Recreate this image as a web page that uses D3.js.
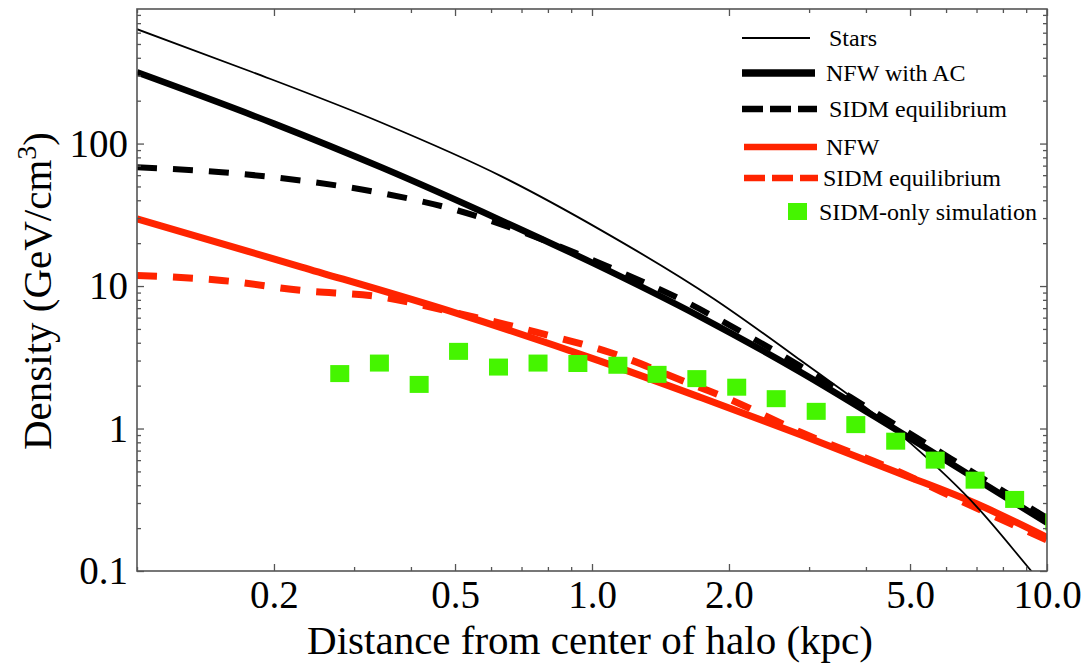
<!DOCTYPE html>
<html>
<head>
<meta charset="utf-8">
<script src="https://cdn.jsdelivr.net/npm/d3@7"></script>
<style>
body{margin:0;background:#fff;}
svg text{font-family:"Liberation Serif","Times New Roman",serif;fill:#000;}
</style>
</head>
<body>
<svg id="chart"></svg>
<script>
// distance in kpc, density in GeV/cm^3
const starsR = [0.1, 0.179, 0.345, 0.631, 1.046, 1.851, 2.873, 5.01, 7.02, 9.08, 10];
const starsRho = [635, 318, 140, 59.1, 24.7, 8.15, 3.01, 0.789, 0.281, 0.1067, 0.0737];

const nfwAcR = [0.1, 0.2, 0.345, 0.631, 1.0, 1.735, 2.873, 4.75, 10];
const nfwAcRho = [316, 138, 67.8, 28.9, 14.6, 6.06, 2.49, 0.945, 0.218];

const sidmAcR = [0.1, 0.1536, 0.23, 0.345, 0.507, 0.746, 1.084, 1.552, 2.198, 2.597, 3.7, 6.13, 10];
const sidmAcRho = [68.1, 62.9, 55.0, 44.9, 33.9, 22.3, 13.7, 8.19, 4.51, 3.32, 1.66, 0.619, 0.235];

const nfwR = [0.1, 0.23, 0.507, 1.046, 1.735, 2.873, 4.75, 7.02, 10];
const nfwRho = [29.6, 13.6, 6.4, 2.96, 1.65, 0.905, 0.484, 0.295, 0.172];

const sidmR = [0.1, 0.1536, 0.23, 0.345, 0.511, 0.754, 1.10, 1.591, 1.939, 2.873, 4.75, 6.77, 10];
const sidmRho = [11.87, 10.95, 9.31, 8.36, 6.4, 4.75, 3.4, 2.15, 1.68, 0.942, 0.494, 0.29, 0.165];

const simR = [0.279, 0.341, 0.417, 0.509, 0.623, 0.761, 0.931, 1.14, 1.39, 1.70, 2.08, 2.54, 3.11, 3.80, 4.65, 5.68, 6.95, 8.49, 10.4];
const simRho = [2.43, 2.88, 2.04, 3.48, 2.70, 2.88, 2.86, 2.78, 2.40, 2.24, 1.95, 1.62, 1.32, 1.065, 0.815, 0.60, 0.434, 0.318, 0.221];

const xTicks = [0.2, 0.5, 1, 2, 5, 10];
const xTickLabels = ['0.2', '0.5', '1.0', '2.0', '5.0', '10.0'];
const yTicks = [0.1, 1, 10, 100];
const yTickLabels = ['0.1', '1', '10', '100'];

const legendNames = ['Stars', 'NFW with AC', 'SIDM equilibrium', 'NFW', 'SIDM equilibrium', 'SIDM-only simulation'];

const w = 1085;
const h = 666;
const padL = 137, padR = 1047, padT = 9, padB = 571;
const serif = '"Liberation Serif", "Times New Roman", serif';
const red = '#ff2400';
const green = '#45f500';

const x = d3.scaleLog().domain([0.1, 10]).range([padL, padR]);
const y = d3.scaleLog().domain([0.1, 880]).range([padB, padT]);

const svg = d3.select('#chart').attr('width', w).attr('height', h);

svg.append('defs').append('clipPath').attr('id', 'plot')
    .append('rect')
    .attr('x', padL).attr('y', padT)
    .attr('width', padR - padL).attr('height', padB - padT);

const plot = svg.append('g').attr('clip-path', 'url(#plot)');

const line = d3.line()
    .x(d => x(d[0]))
    .y(d => y(d[1]))
    .curve(d3.curveMonotoneX);

const series = [
    {r: nfwR, rho: nfwRho, color: red, width: 7, dash: null},
    {r: sidmR, rho: sidmRho, color: red, width: 7, dash: '20,16'},
    {r: nfwAcR, rho: nfwAcRho, color: '#000', width: 6.5, dash: null},
    {r: sidmAcR, rho: sidmAcRho, color: '#000', width: 6, dash: '20,16'},
    {r: starsR, rho: starsRho, color: '#000', width: 1.8, dash: null}
];

series.forEach(s => {
    plot.append('path')
        .datum(d3.zip(s.r, s.rho))
        .attr('d', line)
        .attr('fill', 'none')
        .attr('stroke', s.color)
        .attr('stroke-width', s.width)
        .attr('stroke-dasharray', s.dash);
});

plot.selectAll('rect.sim')
    .data(d3.zip(simR, simRho))
    .enter()
    .append('rect')
    .attr('class', 'sim')
    .attr('x', d => x(d[0]) - 9.5)
    .attr('y', d => y(d[1]) - 8.5)
    .attr('width', 19)
    .attr('height', 17)
    .attr('fill', green);

// frame + ticks (inward on all four sides)
const minorX = x.ticks().filter(v => !xTicks.includes(v));
const minorY = y.ticks().filter(v => !yTicks.includes(v) && v <= 880);

function styleAxis(g) {
    g.attr('font-family', serif);
    g.select('.domain').remove();
    g.selectAll('line').attr('stroke', '#555').attr('stroke-width', 1.3);
    g.selectAll('text').attr('font-size', 39).attr('fill', '#000')
        .attr('font-family', serif);
}

const xFmt = (d, i) => xTickLabels[i];
const yFmt = (d, i) => yTickLabels[i];

svg.append('g').attr('transform', `translate(0,${padB})`)
    .call(d3.axisBottom(x).tickValues(xTicks).tickFormat(xFmt).tickSize(-7).tickPadding(9))
    .call(styleAxis);
svg.append('g').attr('transform', `translate(0,${padB})`)
    .call(d3.axisBottom(x).tickValues(minorX).tickFormat('').tickSize(-4))
    .call(styleAxis);
svg.append('g').attr('transform', `translate(0,${padT})`)
    .call(d3.axisTop(x).tickValues(xTicks).tickFormat('').tickSize(-7))
    .call(styleAxis);
svg.append('g').attr('transform', `translate(0,${padT})`)
    .call(d3.axisTop(x).tickValues(minorX).tickFormat('').tickSize(-4))
    .call(styleAxis);

svg.append('g').attr('transform', `translate(${padL},0)`)
    .call(d3.axisLeft(y).tickValues(yTicks).tickFormat(yFmt).tickSize(-7).tickPadding(9))
    .call(styleAxis);
svg.append('g').attr('transform', `translate(${padL},0)`)
    .call(d3.axisLeft(y).tickValues(minorY).tickFormat('').tickSize(-4))
    .call(styleAxis);
svg.append('g').attr('transform', `translate(${padR},0)`)
    .call(d3.axisRight(y).tickValues(yTicks).tickFormat('').tickSize(-7))
    .call(styleAxis);
svg.append('g').attr('transform', `translate(${padR},0)`)
    .call(d3.axisRight(y).tickValues(minorY).tickFormat('').tickSize(-4))
    .call(styleAxis);

svg.append('rect')
    .attr('x', padL).attr('y', padT)
    .attr('width', padR - padL).attr('height', padB - padT)
    .attr('fill', 'none')
    .attr('stroke', '#555')
    .attr('stroke-width', 1.6);

// axis titles
svg.append('text')
    .attr('x', 590).attr('y', 654)
    .attr('text-anchor', 'middle')
    .attr('font-family', serif)
    .attr('font-size', 41)
    .text('Distance from center of halo (kpc)');

const yTitle = svg.append('text')
    .attr('transform', 'translate(51,291) rotate(-90)')
    .attr('text-anchor', 'middle')
    .attr('font-family', serif)
    .attr('font-size', 41);
yTitle.append('tspan').text('Density (GeV/cm');
yTitle.append('tspan').attr('font-size', 28).attr('dy', -15).text('3');
yTitle.append('tspan').attr('dy', 15).text(')');

// legend
const legendRows = [
    {y: 38, color: '#000', width: 2, dash: null, x1: 742, x2: 810, tx: 829},
    {y: 73, color: '#000', width: 7.5, dash: null, x1: 742, x2: 815, tx: 826},
    {y: 109, color: '#000', width: 6.5, dash: '21,7', x1: 742, x2: 817, tx: 829},
    {y: 147, color: red, width: 6.5, dash: null, x1: 744, x2: 817, tx: 826},
    {y: 178, color: red, width: 6.5, dash: '21,7', x1: 744, x2: 818, tx: 823},
    {y: 212, square: true, tx: 819}
];

const legend = svg.append('g');
legendRows.forEach((row, i) => {
    if (row.square) {
        legend.append('rect')
            .attr('x', 788).attr('y', row.y - 9)
            .attr('width', 19).attr('height', 17)
            .attr('fill', green);
    } else {
        legend.append('line')
            .attr('x1', row.x1).attr('x2', row.x2)
            .attr('y1', row.y).attr('y2', row.y)
            .attr('stroke', row.color)
            .attr('stroke-width', row.width)
            .attr('stroke-dasharray', row.dash);
    }
    legend.append('text')
        .attr('x', row.tx).attr('y', row.y + 8)
        .attr('font-family', serif)
        .attr('font-size', 24)
        .text(legendNames[i]);
});
</script>
</body>
</html>
